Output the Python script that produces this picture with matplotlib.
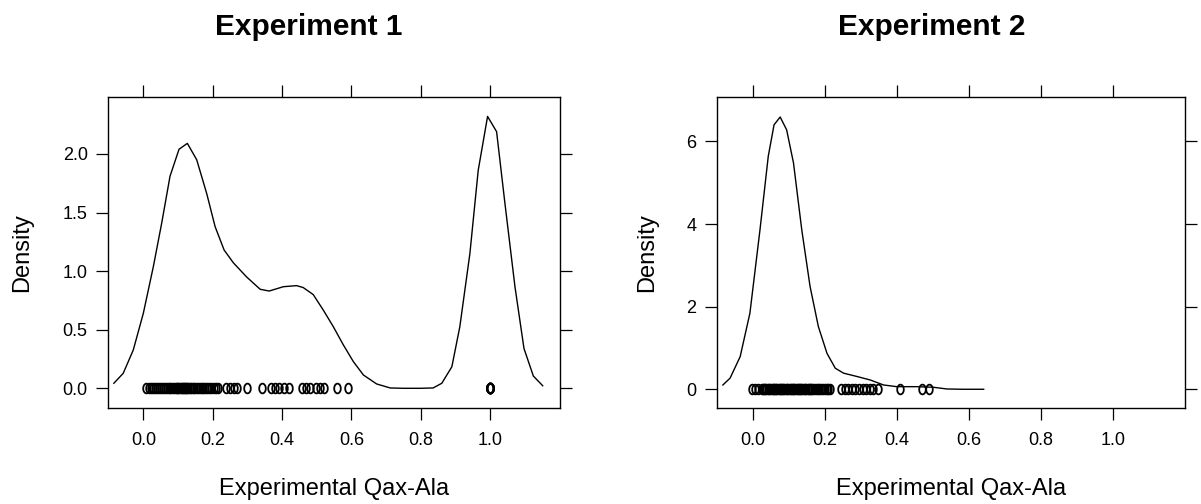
import numpy as np
import matplotlib
matplotlib.use("Agg")
import matplotlib.pyplot as plt

plt.rcParams['font.family'] = ['Liberation Sans', 'DejaVu Sans']

# density curve, experiment 1
x1 = [-0.085, -0.058, -0.029, 0.0, 0.029, 0.053, 0.077, 0.103, 0.127, 0.154,
      0.183, 0.207, 0.233, 0.26, 0.298, 0.337, 0.363, 0.404, 0.442, 0.461,
      0.49, 0.519, 0.548, 0.577, 0.606, 0.635, 0.673, 0.712, 0.75, 0.8,
      0.836, 0.861, 0.89, 0.913, 0.942, 0.966, 0.993, 1.019, 1.043, 1.072,
      1.098, 1.125, 1.152]
d1 = [0.043, 0.128, 0.327, 0.64, 1.04, 1.41, 1.81, 2.04, 2.09, 1.95,
      1.66, 1.38, 1.18, 1.07, 0.95, 0.845, 0.83, 0.867, 0.876, 0.86,
      0.80, 0.668, 0.526, 0.37, 0.227, 0.113, 0.037, 0.003, 0.0, 0.0,
      0.003, 0.043, 0.184, 0.526, 1.15, 1.86, 2.32, 2.19, 1.58, 0.867,
      0.34, 0.105, 0.022]

# observations, experiment 1
obs1 = [0.008, 0.015, 0.022, 0.028, 0.035, 0.04, 0.046, 0.052, 0.058, 0.063,
        0.068, 0.073, 0.078, 0.083, 0.088, 0.093, 0.097, 0.1, 0.104, 0.108,
        0.111, 0.114, 0.117, 0.12, 0.123, 0.126, 0.13, 0.134, 0.138, 0.142,
        0.147, 0.152, 0.158, 0.163, 0.168, 0.173, 0.178, 0.184, 0.19, 0.196,
        0.203, 0.209, 0.215, 0.238, 0.25, 0.262, 0.27, 0.298, 0.341,
        0.367, 0.38, 0.392, 0.405, 0.42, 0.457, 0.468, 0.48, 0.497, 0.51,
        0.522, 0.558, 0.589,
        1.0, 1.0, 1.0, 1.0, 1.0, 1.0, 1.0, 1.0, 1.0, 1.0]

# density curve, experiment 2
x2 = [-0.083, -0.063, -0.035, -0.008, 0.02, 0.043, 0.059, 0.076, 0.094, 0.113,
      0.136, 0.159, 0.182, 0.206, 0.229, 0.252, 0.289, 0.326, 0.363, 0.4,
      0.456, 0.502, 0.539, 0.585, 0.641]
d2 = [0.104, 0.27, 0.79, 1.84, 3.86, 5.64, 6.40, 6.59, 6.28, 5.48,
      3.86, 2.49, 1.52, 0.87, 0.51, 0.39, 0.31, 0.225, 0.104, 0.063,
      0.063, 0.048, 0.007, 0.0, 0.0]

# observations, experiment 2
obs2 = [-0.003, 0.006, 0.015, 0.025, 0.028, 0.032, 0.035, 0.038, 0.042, 0.045,
        0.048, 0.052, 0.055, 0.058, 0.062, 0.065, 0.068, 0.072, 0.075, 0.078,
        0.082, 0.085, 0.088, 0.092, 0.095, 0.098, 0.102, 0.105, 0.108, 0.112,
        0.115, 0.118, 0.122, 0.125, 0.128, 0.132, 0.135, 0.138, 0.142, 0.145,
        0.148, 0.152, 0.155, 0.158, 0.162, 0.165, 0.17, 0.175, 0.18, 0.185,
        0.19, 0.195, 0.2, 0.205, 0.21, 0.215,
        0.245, 0.255, 0.265, 0.275, 0.285, 0.295, 0.305,
        0.315, 0.325, 0.335, 0.348, 0.41, 0.469, 0.488]

panels = [
    ("Experiment 1", x1, d1, obs1, (-0.168, 2.486), [0.0, 0.5, 1.0, 1.5, 2.0],
     ["0.0", "0.5", "1.0", "1.5", "2.0"]),
    ("Experiment 2", x2, d2, obs2, (-0.453, 7.075), [0, 2, 4, 6],
     ["0", "2", "4", "6"]),
]
xticks = [0.0, 0.2, 0.4, 0.6, 0.8, 1.0]
xticklabels = ["0.0", "0.2", "0.4", "0.6", "0.8", "1.0"]

fig = plt.figure(figsize=(12.01, 5.04), dpi=100)
ax_rects = [[0.0899, 0.1905, 0.3764, 0.6171], [0.5968, 0.1905, 0.3899, 0.6171]]
xlims = [(-0.102, 1.202), (-0.1, 1.2)]
ylab_x = [-0.19, -0.149]
title_x = [0.2573, 0.776]

# tall open ellipse marker like the jittered circles
t = np.linspace(0, 2 * np.pi, 40)
ell = np.column_stack([0.68 * np.cos(t), np.sin(t)])

for i, (title, xs, ds, obs, ylim, yt, ytl) in enumerate(panels):
    ax = fig.add_axes(ax_rects[i])
    ax.plot(xs, ds, color='black', lw=1.0)
    ax.plot(obs, np.zeros(len(obs)), linestyle='none', marker=ell,
            markersize=7, markerfacecolor='none', markeredgecolor='black',
            markeredgewidth=1.3)
    ax.set_xlim(*xlims[i])
    ax.set_ylim(*ylim)
    ax.set_xticks(xticks)
    ax.set_xticklabels(xticklabels)
    ax.set_yticks(yt)
    ax.set_yticklabels(ytl)
    ax.tick_params(axis='both', direction='out', length=8.6, width=0.9,
                   labelsize=13, top=True, right=True)
    ax.tick_params(axis='x', pad=9)
    ax.tick_params(axis='y', pad=6)
    for s in ax.spines.values():
        s.set_linewidth(1.0)
    ax.set_xlabel("Experimental Qax-Ala", fontsize=17)
    ax.xaxis.set_label_coords(0.5, -0.262)
    ax.xaxis.label.set_va('center')
    ax.set_ylabel("Density", fontsize=17)
    ax.yaxis.set_label_coords(ylab_x[i], 0.5)
    ax.yaxis.label.set_va('center')
    fig.text(title_x[i], 0.9306, title, ha='center', va='baseline',
             fontsize=21.5, fontweight='bold')

fig.savefig("out.png", dpi=100)
